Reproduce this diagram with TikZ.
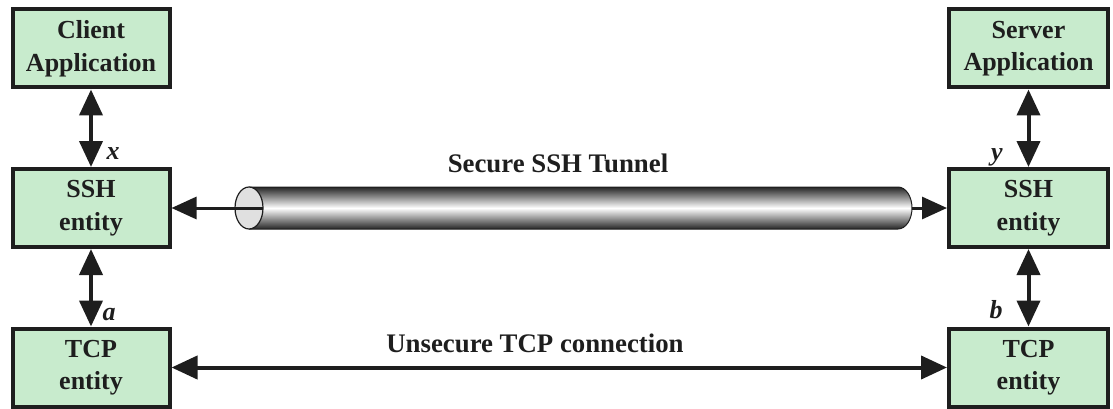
\documentclass[tikz,border=0pt]{standalone}
\usepackage{fontspec}
\setmainfont{Liberation Serif}
\usetikzlibrary{arrows.meta,shapes.geometric}
\definecolor{boxgreen}{RGB}{200,235,205}
\definecolor{ink}{RGB}{30,30,30}
\tikzset{
  ent/.style={draw=ink, line width=4pt, fill=boxgreen, minimum width=157pt, minimum height=78pt,
    inner sep=0pt, align=center, font=\fontsize{26}{32.5}\selectfont\bfseries, text=ink},
  dbl/.style={line width=4pt, draw=ink, {Triangle[length=26pt,width=23pt]}-{Triangle[length=26pt,width=23pt]}},
  one/.style={line width=3pt, draw=ink, -{Triangle[length=25pt,width=22pt]}},
  lbl/.style={font=\fontsize{26.8}{30}\selectfont\bfseries, text=ink, inner sep=0pt},
  ilbl/.style={font=\fontsize{26}{30}\selectfont\bfseries\itshape, text=ink, inner sep=0pt}
}
\begin{document}
\begin{tikzpicture}[x=1pt,y=-1pt]
\useasboundingbox (0,0) rectangle (1113,409);
\node[ent] (ca) at (91,48.5) {Client\\Application};
\node[ent] (cs) at (91,208) {SSH\\entity};
\node[ent] (ct) at (91,367.5) {TCP\\entity};
\node[ent, minimum width=159pt] (sa) at (1028.5,48.5) {Server\\Application};
\node[ent, minimum width=159pt] (ss) at (1028.5,208) {SSH\\entity};
\node[ent, minimum width=159pt] (st) at (1028.5,367.5) {TCP\\entity};
% vertical arrows
\draw[dbl] (ca.south) -- (cs.north);
\draw[dbl] (cs.south) -- (ct.north);
\draw[dbl] (sa.south) -- (ss.north);
\draw[dbl] (ss.south) -- (st.north);
\node[ilbl] (lx) at (113,154) {x};
\node[ilbl] (la) at (109,315) {a};
\node[ilbl] (ly) at (997,157) {y};
\node[ilbl] (lb) at (996,310) {b};
% tunnel (drawn with upward y so the shading is not mirrored)
\begin{scope}[y=1pt]
\shade[top color=black!85, bottom color=black!85, middle color=white, draw=none]
  (249,-187) -- (898,-187) arc[start angle=90, end angle=-90, x radius=14, y radius=21] -- (249,-229) -- cycle;
\draw[line width=1pt, draw=ink] (249,-187) -- (898,-187) arc[start angle=90, end angle=-90, x radius=14, y radius=21] -- (249,-229);
\draw[line width=1.2pt, draw=ink, fill=black!12] (249,-208) ellipse[x radius=14, y radius=21];
\end{scope}
\coordinate (tl) at (263,208);
\coordinate (trend) at (912,208);
\draw[one] (tl) -- (cs.east);
\draw[one] (trend) -- (ss.west);
\node[lbl] (tunnel) at (558,163) {Secure SSH Tunnel};
% tcp
\draw[line width=4pt, draw=ink, {Triangle[length=26pt,width=23pt]}-{Triangle[length=26pt,width=23pt]}] (ct.east) -- (st.west);
\node[lbl] (tcp) at (535,343) {Unsecure TCP connection};
\end{tikzpicture}
\end{document}
